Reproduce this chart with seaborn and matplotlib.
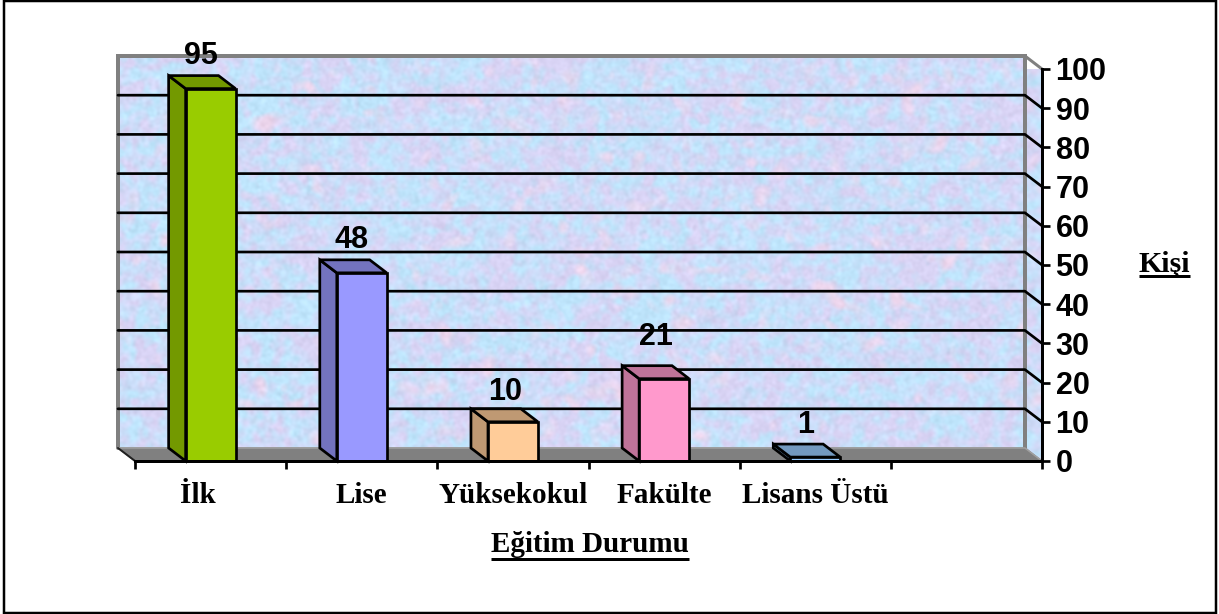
"""Egitim durumu bar chart, drawn in the look of a 3-D spreadsheet column chart."""

import matplotlib

matplotlib.use("Agg")
import matplotlib.pyplot as plt
import matplotlib.transforms as mtrans
import numpy as np
import pandas as pd
import seaborn as sns
from matplotlib.lines import Line2D
from matplotlib.patches import Polygon, Rectangle

categories = ["İlk", "Lise", "Yüksekokul", "Fakülte", "Lisans Üstü"]
values = [95, 48, 10, 21, 1]
front_colors = ["#99CC00", "#9999FF", "#FFCC99", "#FF99CC", "#99CCFF"]
side_colors = ["#739900", "#7373BF", "#BF9973", "#BF7399", "#7399BF"]
y_ticks = [0, 10, 20, 30, 40, 50, 60, 70, 80, 90, 100]
x_title = "Eğitim Durumu"
y_title = "Kişi"

# label nudges in pixels
label_dx = [-10, -10, -8, -8, -10]
label_dy = [33, 33, 30, 42, 32]

W, H = 1219, 614
DPI = 100
PX = 72 / DPI  # one pixel in points
N_SLOTS = 6
X_LO, X_HI = -0.5, N_SLOTS - 0.5
DEPTH_X = 17 / 151  # wall depth in category units
DEPTH_Y = 13 / 3.92  # wall depth in value units
LW = 2.7 * PX

sns.set_theme(style="white")
plt.rcParams["font.family"] = ["Liberation Sans", "DejaVu Sans"]
plt.rcParams["text.color"] = "black"


def make_texture(height, width, seed=7):
    """Blotchy pale blue/lilac wall fill, this is only decoration."""
    rng = np.random.default_rng(seed)
    fy = np.fft.fftfreq(height)[:, None]
    fx = np.fft.fftfreq(width)[None, :]
    out = []
    for sigma in (3.0, 1.5, 8.0, 5.0):
        noise = rng.standard_normal((height, width))
        kernel = np.exp(-2 * (np.pi * sigma) ** 2 * (fx**2 + fy**2))
        smooth = np.fft.ifft2(np.fft.fft2(noise) * kernel).real
        out.append(smooth / smooth.std())
    a = np.clip(0.5 + 0.28 * (out[0] + 0.7 * out[2]), 0, 1)[..., None]
    pink = np.clip(0.45 * out[3] - 0.35, 0, 1)[..., None]
    grain = 0.012 * out[1][..., None]
    blue = np.array([0.75, 0.90, 0.99])
    lilac = np.array([0.85, 0.83, 0.96])
    rose = np.array([0.93, 0.84, 0.93])
    mix = blue * a + lilac * (1 - a)
    return np.clip(mix * (1 - pink) + rose * pink + grain, 0, 1)


def underline(fig, text, gap):
    """Matplotlib has no underlined text, so rule a line below it."""
    box = text.get_window_extent(fig.canvas.get_renderer())
    y = box.y0 - gap
    fig.add_artist(
        Line2D(
            [box.x0, box.x1],
            [y, y],
            color="black",
            lw=3 * PX,
            transform=None,
            solid_capstyle="butt",
        )
    )


fig = plt.figure(figsize=(W / DPI, H / DPI), dpi=DPI, facecolor="white")
ax = fig.add_axes([135 / W, 1 - 461 / H, 907 / W, 392 / H])

frame = pd.DataFrame({"egitim": categories, "kisi": values})
sns.barplot(
    data=frame,
    x="egitim",
    y="kisi",
    hue="egitim",
    palette=front_colors,
    saturation=1,
    width=0.33,
    edgecolor="black",
    linewidth=LW,
    legend=False,
    zorder=5,
    ax=ax,
)
ax.set_xlim(X_LO, X_HI)
ax.set_ylim(0, 100)
ax.set_xlabel("")
ax.set_ylabel("")
ax.set_facecolor("none")

# walls and floor sit behind the front plane, outside the axes box
texture = make_texture(392, 907)
back = ax.imshow(
    texture,
    extent=(X_LO - DEPTH_X, X_HI - DEPTH_X, DEPTH_Y, 100 + DEPTH_Y),
    aspect="auto",
    origin="lower",
    zorder=0,
    clip_on=False,
)
side = ax.imshow(
    texture[:, 300:317],
    extent=(X_HI - DEPTH_X, X_HI, 0, 100 + DEPTH_Y),
    aspect="auto",
    origin="lower",
    zorder=0,
)
side_shape = Polygon(
    [
        (X_HI - DEPTH_X, DEPTH_Y),
        (X_HI, 0),
        (X_HI, 100),
        (X_HI - DEPTH_X, 100 + DEPTH_Y),
    ],
    transform=ax.transData,
    facecolor="none",
    edgecolor="none",
)
side.set_clip_path(side_shape)
side.set_clip_box(None)
ax.set_xlim(X_LO, X_HI)
ax.set_ylim(0, 100)

ax.add_patch(
    Polygon(
        [
            (X_LO, 0),
            (X_HI, 0),
            (X_HI - DEPTH_X, DEPTH_Y),
            (X_LO - DEPTH_X, DEPTH_Y),
        ],
        facecolor="#808080",
        edgecolor="#808080",
        zorder=1,
        clip_on=False,
    )
)

# wall outline
wall_grey = "#808080"
ax.plot(
    [X_LO - DEPTH_X, X_LO - DEPTH_X, X_HI - DEPTH_X, X_HI - DEPTH_X],
    [DEPTH_Y, 100 + DEPTH_Y, 100 + DEPTH_Y, DEPTH_Y],
    color=wall_grey,
    lw=4 * PX,
    zorder=2,
    clip_on=False,
    solid_joinstyle="miter",
)
ax.plot(
    [X_HI - DEPTH_X, X_HI],
    [100 + DEPTH_Y, 100],
    color=wall_grey,
    lw=3 * PX,
    zorder=2,
    clip_on=False,
)
ax.plot(
    [X_LO - DEPTH_X, X_HI - DEPTH_X, X_HI],
    [DEPTH_Y, DEPTH_Y, 0],
    color="#A0A0A0",
    lw=1.5 * PX,
    zorder=2,
    clip_on=False,
)
ax.plot(
    [X_LO - DEPTH_X, X_LO],
    [DEPTH_Y, 0],
    color="#202020",
    lw=2 * PX,
    zorder=2,
    clip_on=False,
)

# gridlines run along the back wall and come forward on the side wall
for tick in y_ticks[1:-1]:
    ax.plot(
        [X_LO - DEPTH_X, X_HI - DEPTH_X, X_HI],
        [tick + DEPTH_Y, tick + DEPTH_Y, tick],
        color="black",
        lw=LW,
        zorder=3,
        clip_on=False,
    )

# side and top faces are built from the bars seaborn drew
for bar, dark in zip(ax.patches, side_colors):
    if not isinstance(bar, Rectangle) or bar.get_height() == 0:
        continue
    x0, x1 = bar.get_x(), bar.get_x() + bar.get_width()
    top = bar.get_height()
    ax.add_patch(
        Polygon(
            [
                (x0, 0),
                (x0 - DEPTH_X, DEPTH_Y),
                (x0 - DEPTH_X, top + DEPTH_Y),
                (x0, top),
            ],
            facecolor=dark,
            edgecolor="black",
            lw=LW,
            zorder=4,
            clip_on=False,
        )
    )
    ax.add_patch(
        Polygon(
            [
                (x0, top),
                (x0 - DEPTH_X, top + DEPTH_Y),
                (x1 - DEPTH_X, top + DEPTH_Y),
                (x1, top),
            ],
            facecolor=dark,
            edgecolor="black",
            lw=LW,
            zorder=4,
            clip_on=False,
        )
    )

for pos, val in enumerate(values):
    ax.annotate(
        str(val),
        xy=(pos, val),
        xytext=(label_dx[pos], label_dy[pos]),
        textcoords="offset pixels",
        ha="center",
        va="center",
        fontsize=22,
        fontweight="bold",
        color="black",
        zorder=7,
        annotation_clip=False,
    )

# axes: black front edges only
for name, spine in ax.spines.items():
    spine.set_visible(name in ("bottom", "right"))
    spine.set_color("black")
    spine.set_linewidth(3 * PX)
    spine.set_zorder(6)

ax.yaxis.tick_right()
ax.set_yticks(y_ticks)
ax.tick_params(
    axis="y",
    which="major",
    direction="out",
    length=8 * PX,
    width=LW,
    pad=4,
    labelsize=22,
    left=False,
    right=True,
    color="black",
    labelcolor="black",
)
for label in ax.get_yticklabels():
    label.set_fontweight("bold")

ax.set_xticks(range(len(categories)))
ax.set_xticklabels(categories)
ax.set_xticks(np.arange(X_LO, X_HI + 0.5), minor=True)
ax.tick_params(axis="x", which="major", length=0, pad=15)
ax.tick_params(
    axis="x",
    which="minor",
    direction="out",
    bottom=True,
    length=8 * PX,
    width=LW,
    color="black",
)
for label in ax.get_xticklabels():
    label.set_fontfamily("Liberation Serif")
    label.set_fontweight("bold")
    label.set_fontsize(21)
    label.set_color("black")

# the first category label sits a little left of its slot centre
first = ax.get_xticklabels()[0]
first.set_transform(
    first.get_transform() + mtrans.ScaledTranslation(-13 / DPI, 0, fig.dpi_scale_trans)
)

x_text = fig.text(
    590 / W,
    1 - 544 / H,
    x_title,
    ha="center",
    va="center",
    family="Liberation Serif",
    fontweight="bold",
    fontsize=21,
    color="black",
)
y_text = fig.text(
    1164.5 / W,
    1 - 264 / H,
    y_title,
    ha="center",
    va="center",
    family="Liberation Serif",
    fontweight="bold",
    fontsize=21.5,
    color="black",
)

# frame round the whole chart
fig.add_artist(
    Rectangle(
        (4 / W, 1.5 / H),
        1212 / W,
        612 / H,
        transform=fig.transFigure,
        facecolor="none",
        edgecolor="black",
        lw=2.5 * PX,
    )
)

fig.canvas.draw()
underline(fig, x_text, gap=1)
underline(fig, y_text, gap=-2)

fig.savefig("out.png", dpi=DPI)
plt.close(fig)
